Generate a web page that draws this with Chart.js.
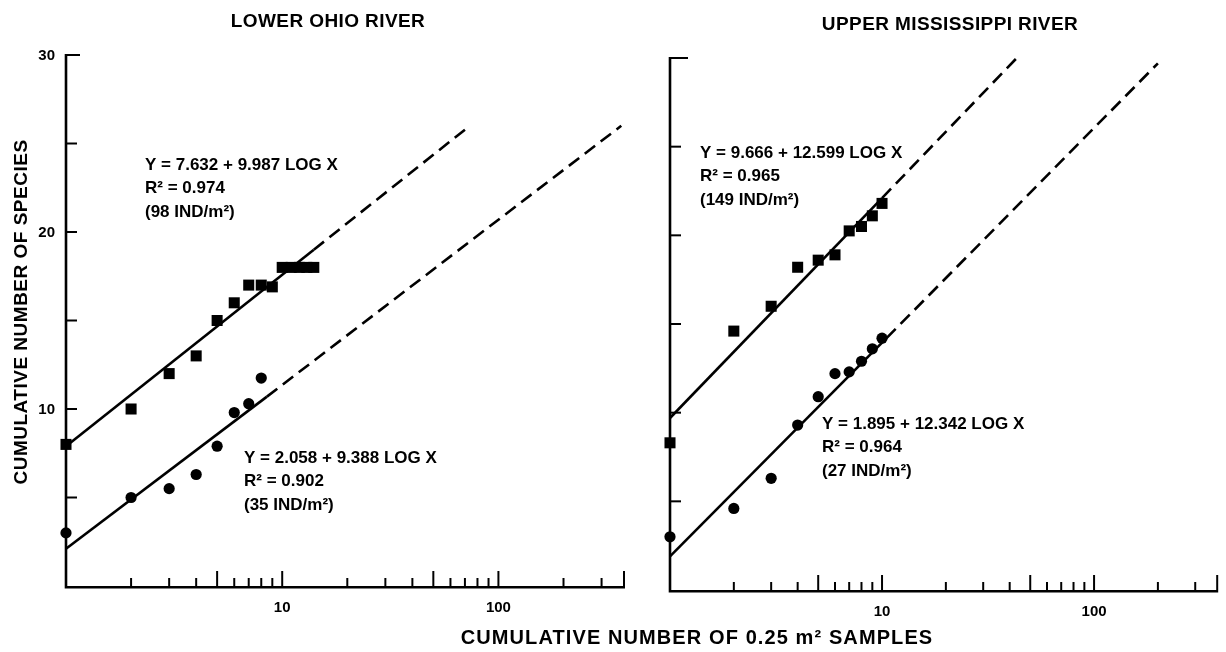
<!DOCTYPE html>
<html><head><meta charset="utf-8">
<script src="https://cdn.jsdelivr.net/npm/chart.js@4"></script>
<style>
html,body{margin:0;padding:0;background:#fff;}
#wrap{position:relative;width:1226px;height:652px;overflow:hidden;}
canvas{position:absolute;left:0;top:0;}
</style></head><body>
<div id="wrap"><canvas id="c1" width="1226" height="652"></canvas><canvas id="c2" width="1226" height="652"></canvas></div>
<script>
// ---------- DATA ----------
const ohioSqSamples = [1,2,3,4,5,6,7,8,9,10,11,12,13,14];
const ohioSqSpecies = [8,10,12,13,15,16,17,17,16.9,18,18,18,18,18];
const ohioCiSamples = [1,2,3,4,5,6,7,8];
const ohioCiSpecies = [3.0,5.0,5.5,6.3,7.9,9.8,10.3,11.75];
const ohioFitUpperX = [1,14,72];
const ohioFitUpperY = [7.9,19.0,25.9];
const ohioFitLowerX = [1,8.5,370];
const ohioFitLowerY = [2.1,10.7,26.0];

const missSqSamples = [1,2,3,4,5,6,7,8,9,10];
const missSqSpecies = [8.3,14.6,16.0,18.2,18.6,18.9,20.25,20.5,21.1,21.8];
const missCiSamples = [1,2,3,4,5,6,7,8,9,10];
const missCiSpecies = [3.0,4.6,6.3,9.3,10.9,12.2,12.3,12.9,13.6,14.2];
const missFitUpperX = [1,10,44];
const missFitUpperY = [9.7,22.1,30.1];
const missFitLowerX = [1,10.5,200];
const missFitLowerY = [1.9,14.2,29.7];

const yTickValues = [5,10,15,20,25,30];
const yLabelValues = [10,20,30];
const xTickValues = [2,3,4,5,6,7,8,9,10,20,30,40,50,60,70,80,90,100,200,300];
const xLongTickValues = [5,10,50,100];
const xLabelValues = [10,100];

const ohioTitle = 'LOWER OHIO RIVER';
const missTitle = 'UPPER MISSISSIPPI RIVER';
const ohioUpperText = ['Y = 7.632 + 9.987 LOG X','R\u00B2 = 0.974','(98 IND/m\u00B2)'];
const ohioLowerText = ['Y = 2.058 + 9.388 LOG X','R\u00B2 = 0.902','(35 IND/m\u00B2)'];
const missUpperText = ['Y = 9.666 + 12.599 LOG X','R\u00B2 = 0.965','(149 IND/m\u00B2)'];
const missLowerText = ['Y = 1.895 + 12.342 LOG X','R\u00B2 = 0.964','(27 IND/m\u00B2)'];
const xTitle = 'CUMULATIVE NUMBER OF 0.25 m\u00B2 SAMPLES';
const yTitle = 'CUMULATIVE NUMBER OF SPECIES';

const X_MIN = 1, X_MAX = 385, Y_MIN = 0, Y_MAX = 30;
// ---------------------------

const FONT = '"Liberation Sans", Arial, Helvetica, sans-serif';
const zip = (xs, ys) => xs.map((x, i) => ({x, y: ys[i]}));

function pointSet(xs, ys, style, r) {
  return {type:'scatter', data: zip(xs, ys), pointStyle: style, pointRadius: r, pointHoverRadius: r,
    backgroundColor:'#000', borderColor:'#000', borderWidth:0, showLine:false, clip:false};
}
function fitSet(xs, ys) {
  return {type:'scatter', data: zip(xs, ys), showLine:true, pointRadius:0, pointHoverRadius:0,
    borderColor:'#000', borderWidth:2.6, fill:false, clip:false,
    segment:{borderDash: ctx => ctx.p0DataIndex >= 1 ? [13,7] : []}};
}

function axesPlugin(cfg) {
  return {
    id: 'axes' + cfg.id,
    afterDraw(chart) {
      const ctx = chart.ctx, xs = chart.scales.x, ys = chart.scales.y;
      ctx.save();
      ctx.strokeStyle = '#000'; ctx.fillStyle = '#000'; ctx.lineCap = 'butt';
      const yTop = ys.getPixelForValue(Y_MAX), yBot = ys.getPixelForValue(Y_MIN);
      const xL = xs.getPixelForValue(X_MIN), xR = xs.getPixelForValue(X_MAX);
      // axis lines
      ctx.lineWidth = 2.6;
      ctx.beginPath(); ctx.moveTo(xL, yTop - 1); ctx.lineTo(xL, yBot + 1.3); ctx.lineTo(xR, yBot + 1.3); ctx.stroke();
      // y ticks (inward)
      ctx.lineWidth = 2;
      yTickValues.forEach(v => {
        const py = ys.getPixelForValue(v);
        const len = v === Y_MAX ? cfg.topTick : 11;
        ctx.beginPath(); ctx.moveTo(xL, py); ctx.lineTo(xL + len, py); ctx.stroke();
      });
      // x ticks (upward)
      xTickValues.forEach(v => {
        const px = xs.getPixelForValue(v);
        const len = xLongTickValues.includes(v) ? 15 : 8;
        ctx.beginPath(); ctx.moveTo(px, yBot); ctx.lineTo(px, yBot - len); ctx.stroke();
      });
      ctx.beginPath(); ctx.moveTo(xR - 1, yBot); ctx.lineTo(xR - 1, yBot - 15); ctx.stroke();
      // tick labels
      ctx.font = 'bold 15px ' + FONT;
      ctx.textAlign = 'center'; ctx.textBaseline = 'middle';
      xLabelValues.forEach(v => ctx.fillText(String(v), xs.getPixelForValue(v), yBot + 22));
      if (cfg.yLabels) {
        ctx.textAlign = 'right';
        yLabelValues.forEach(v => ctx.fillText(String(v), xL - 11, ys.getPixelForValue(v) + 1));
      }
      // title
      ctx.font = 'bold 19px ' + FONT;
      ctx.textAlign = 'center';
      ctx.letterSpacing = '0.4px';
      ctx.fillText(cfg.title, cfg.titleX, cfg.titleY);
      ctx.letterSpacing = '0px';
      // annotations
      ctx.font = 'bold 17px ' + FONT;
      ctx.textAlign = 'left';
      cfg.notes.forEach(n => n.lines.forEach((t, i) => ctx.fillText(t, n.x, n.y + i * 23.5)));
      // shared axis titles
      if (cfg.axisTitles) {
        ctx.font = 'bold 20px ' + FONT;
        ctx.textAlign = 'center';
        ctx.letterSpacing = '1.1px';
        ctx.fillText(xTitle, 697, 638);
        ctx.letterSpacing = '0.5px';
        ctx.translate(22, 312); ctx.rotate(-Math.PI / 2);
        ctx.font = 'bold 19px ' + FONT;
        ctx.fillText(yTitle, 0, 0);
      }
      ctx.restore();
    }
  };
}

function makePanel(id, padding, datasets, cfg) {
  return new Chart(document.getElementById(id), {
    type: 'scatter',
    data: {datasets},
    options: {
      responsive:false, animation:false, events:[],
      layout:{padding},
      plugins:{legend:{display:false}, tooltip:{enabled:false}},
      scales:{
        x:{type:'logarithmic', min:X_MIN, max:X_MAX, display:false},
        y:{type:'linear', min:Y_MIN, max:Y_MAX, display:false}
      }
    },
    plugins:[axesPlugin(cfg)]
  });
}

makePanel('c1', {left:66, right:1226-625, top:55, bottom:652-586}, [
  fitSet(ohioFitUpperX, ohioFitUpperY),
  fitSet(ohioFitLowerX, ohioFitLowerY),
  pointSet(ohioSqSamples, ohioSqSpecies, 'rect', 7.8),
  pointSet(ohioCiSamples, ohioCiSpecies, 'circle', 5.6)
], {id:1, yLabels:true, topTick:14, title:ohioTitle, titleX:328, titleY:22, axisTitles:true,
    notes:[{x:145, y:165, lines:ohioUpperText},{x:244, y:458, lines:ohioLowerText}]});

makePanel('c2', {left:670, right:1, top:58, bottom:652-590}, [
  fitSet(missFitUpperX, missFitUpperY),
  fitSet(missFitLowerX, missFitLowerY),
  pointSet(missSqSamples, missSqSpecies, 'rect', 7.8),
  pointSet(missCiSamples, missCiSpecies, 'circle', 5.6)
], {id:2, yLabels:false, topTick:18, title:missTitle, titleX:950, titleY:25, axisTitles:false,
    notes:[{x:700, y:153, lines:missUpperText},{x:822, y:424, lines:missLowerText}]});
</script>
</body></html>
